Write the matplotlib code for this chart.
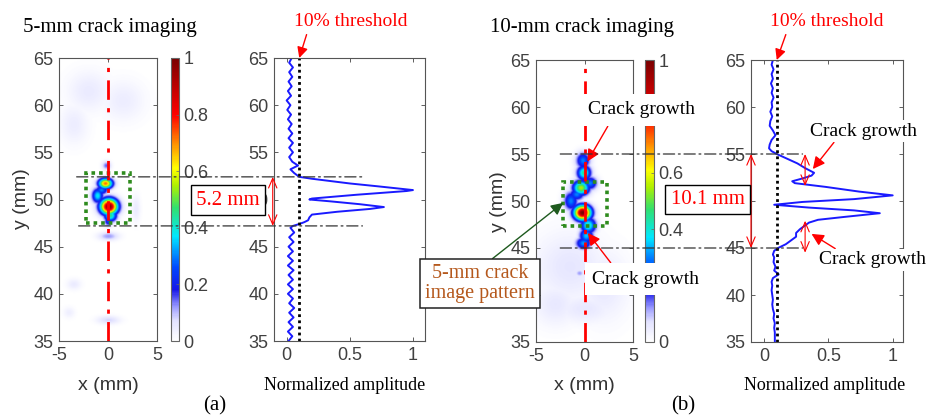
import numpy as np
import matplotlib
matplotlib.use('Agg')
import matplotlib.pyplot as plt
from matplotlib.colors import LinearSegmentedColormap
from matplotlib.patches import ConnectionPatch, Rectangle

SANS = 'Liberation Sans'
SERIF = 'Liberation Serif'

# ---- data ----
# image blobs: x, y centre (mm), peak amplitude, spread x / y (mm)
blob_a_x = [-0.3, -1.1, -0.7, 0.05, 0.2, 0.0, -0.2, 0.0, -2.0, 1.5, -3.5, 0.0, -3.5, 2.8, -4.0]
blob_a_y = [51.7, 50.4, 51.0, 49.25, 48.3, 47.7, 53.6, 46.1, 61.5, 60.5, 58.0, 37.2, 41.0, 49.0, 38.0]
blob_a_amp = [0.72, 0.38, 0.3, 1.0, 0.45, 0.25, 0.15, 0.12, 0.05, 0.045, 0.045, 0.08, 0.05, 0.05, 0.04]
blob_a_sx = [0.5, 0.4, 0.45, 0.62, 0.45, 0.3, 0.3, 0.7, 1.5, 1.5, 1.0, 0.8, 0.5, 0.3, 0.4]
blob_a_sy = [0.38, 0.55, 0.35, 0.58, 0.45, 0.35, 0.3, 0.3, 1.5, 1.5, 1.5, 0.3, 0.4, 1.0, 0.4]

blob_b_x = [-0.15, -0.05, -0.35, 0.6, -1.4, -0.8, -0.2, 0.4, 0.2, -0.1, -0.5, -1.5, 2.0, -3.0, 0.0]
blob_b_y = [54.3, 53.0, 51.4, 51.9, 50.0, 50.7, 48.75, 47.4, 46.3, 45.5, 42.3, 43.0, 41.0, 39.0, 38.5]
blob_b_amp = [0.3, 0.45, 0.55, 0.3, 0.3, 0.3, 1.0, 0.42, 0.35, 0.32, 0.12, 0.06, 0.055, 0.055, 0.055]
blob_b_sx = [0.5, 0.5, 0.6, 0.5, 0.5, 0.55, 0.62, 0.55, 0.5, 0.55, 0.3, 2.6, 1.8, 1.6, 2.2]
blob_b_sy = [0.6, 0.55, 0.55, 0.5, 0.7, 0.45, 0.55, 0.6, 0.55, 0.45, 0.25, 2.6, 2.6, 1.6, 1.1]

# normalized amplitude profiles along y
prof_a_y = [65.0, 64.5, 64.0, 63.5, 63.0, 62.5, 62.0, 61.5, 61.0, 60.5, 60.0, 59.5,
            59.0, 58.5, 58.0, 57.5, 57.0, 56.5, 56.0, 55.5, 55.0, 54.5, 54.0, 53.6,
            53.2, 52.8, 52.4, 52.2, 52.0, 51.7, 51.4, 51.1, 51.0, 50.9, 50.5, 50.1,
            50.0, 49.8, 49.5, 49.2, 49.0, 48.7, 48.4, 48.1, 47.8, 47.6, 47.4, 47.2,
            47.0, 46.5, 46.0, 45.5, 45.0, 44.5, 44.0, 43.5, 43.0, 42.5, 42.0, 41.5,
            41.0, 40.5, 40.0, 39.5, 39.0, 38.5, 38.0, 37.5, 37.0, 36.5, 36.0, 35.5, 35.0]
prof_a_amp = [0.04, 0.02, 0.05, 0.02, 0.045, 0.015, 0.04, 0.01, 0.035, 0.0, 0.03, 0.005,
              0.035, 0.01, 0.04, 0.015, 0.045, 0.015, 0.05, 0.02, 0.05, 0.02, 0.045, 0.09,
              0.03, 0.06, 0.10, 0.20, 0.32, 0.50, 0.72, 0.93, 1.00, 0.95, 0.55, 0.20,
              0.18, 0.35, 0.58, 0.77, 0.66, 0.40, 0.20, 0.18, 0.17, 0.14, 0.10, 0.05,
              0.03, 0.06, 0.02, 0.055, 0.015, 0.05, 0.01, 0.05, 0.01, 0.055, 0.015, 0.05,
              0.01, 0.05, 0.01, 0.05, 0.02, 0.06, 0.02, 0.055, 0.015, 0.05, 0.01, 0.045, 0.015]

prof_b_y = [65.0, 64.5, 64.0, 63.5, 63.0, 62.5, 62.0, 61.5, 61.0, 60.5, 60.0, 59.5,
            59.0, 58.5, 58.0, 57.5, 57.0, 56.5, 56.0, 55.6, 55.3, 55.0, 54.5, 54.0,
            53.5, 53.0, 52.7, 52.4, 52.1, 51.9, 51.5, 51.0, 50.6, 50.2, 49.9, 49.6,
            49.3, 49.0, 48.7, 48.3, 48.0, 47.7, 47.3, 47.0, 46.6, 46.2, 45.8, 45.4,
            45.0, 44.7, 44.3, 44.0, 43.5, 43.0, 42.6, 42.2, 41.8, 41.4, 41.0, 40.5,
            40.0, 39.5, 39.0, 38.5, 38.0, 37.5, 37.0, 36.5, 36.0, 35.5, 35.0]
prof_b_amp = [0.07, 0.06, 0.075, 0.06, 0.07, 0.055, 0.07, 0.06, 0.075, 0.06, 0.065, 0.05,
              0.065, 0.05, 0.045, 0.07, 0.09, 0.06, 0.045, 0.04, 0.06, 0.10, 0.18, 0.26,
              0.32, 0.39, 0.37, 0.30, 0.22, 0.24, 0.48, 0.74, 1.00, 0.70, 0.30, 0.08,
              0.35, 0.70, 0.90, 0.62, 0.42, 0.35, 0.31, 0.28, 0.25, 0.25, 0.21, 0.17,
              0.11, 0.08, 0.07, 0.08, 0.075, 0.09, 0.08, 0.115, 0.07, 0.06, 0.065, 0.06,
              0.065, 0.07, 0.065, 0.07, 0.08, 0.075, 0.085, 0.08, 0.085, 0.085, 0.085]

threshold = 0.1
crack_a = (47.2, 52.4)
crack_b = (45.0, 55.0)
cbar_ticks = [0, 0.2, 0.4, 0.6, 0.8, 1]
cbar_labels = ['0', '0.2', '0.4', '0.6', '0.8', '1']

cmap = LinearSegmentedColormap.from_list('whitejet', [
    (0.0, '#ffffff'), (0.07, '#e2e2ff'), (0.12, '#9a9aff'), (0.18, '#1515e8'),
    (0.26, '#0048ff'), (0.37, '#00e8ff'), (0.47, '#30e070'), (0.55, '#b0f000'),
    (0.61, '#ffff00'), (0.70, '#ff8c00'), (0.80, '#ff0000'), (1.0, '#7a0000')])


def make_image(bx, by, amp, sx, sy):
    gx = np.linspace(-5, 5, 201)
    gy = np.linspace(35, 65, 601)
    X, Y = np.meshgrid(gx, gy)
    Z = np.zeros_like(X)
    for x0, y0, a, s1, s2 in zip(bx, by, amp, sx, sy):
        Z = np.maximum(Z, a * np.exp(-((X - x0) ** 2 / (2 * s1 ** 2) + (Y - y0) ** 2 / (2 * s2 ** 2))))
    return Z


def style_axes(ax):
    ax.tick_params(direction='in', top=True, right=True, length=3, width=0.6,
                   color='#444444', labelcolor='#404040', labelsize=13, pad=4)
    for lab in ax.get_xticklabels() + ax.get_yticklabels():
        lab.set_family(SANS)
    for sp in ax.spines.values():
        sp.set_color('#555555')
        sp.set_linewidth(0.8)


fig = plt.figure(figsize=(9.3, 4.18), dpi=100)


def px_axes(l, t, r, b):
    return fig.add_axes([l / 930, 1 - b / 418, (r - l) / 930, (b - t) / 418])


ax_a = px_axes(59, 58, 157, 341)
cax_a = px_axes(171, 58, 179, 341)
pr_a = px_axes(274, 58, 425, 341)
ax_b = px_axes(536, 60, 633, 342)
cax_b = px_axes(645, 60, 654, 342)
pr_b = px_axes(751, 60, 903, 342)
# colorbars go underneath so the white label boxes can hide parts of them
cax_a.set_zorder(-1)
cax_b.set_zorder(-1)

panels = [
    (ax_a, cax_a, pr_a, make_image(blob_a_x, blob_a_y, blob_a_amp, blob_a_sx, blob_a_sy),
     prof_a_y, prof_a_amp, 1.095),
    (ax_b, cax_b, pr_b, make_image(blob_b_x, blob_b_y, blob_b_amp, blob_b_sx, blob_b_sy),
     prof_b_y, prof_b_amp, 1.08),
]

for ax, cax, pr, img, py, pa, xmax in panels:
    im = ax.imshow(img, origin='lower', extent=[-5, 5, 35, 65], aspect='auto',
                   cmap=cmap, vmin=0, vmax=1, interpolation='bilinear')
    ax.plot([0, 0], [35, 65], color='red', lw=2, linestyle=(0, (7, 3, 1.5, 3)))
    ax.set_xlim(-5, 5)
    ax.set_ylim(35, 65)
    ax.set_xticks([-5, 0, 5])
    ax.set_xticklabels(['-5', '0', '5'])
    ax.set_yticks([35, 40, 45, 50, 55, 60, 65])
    style_axes(ax)

    cb = fig.colorbar(im, cax=cax, ticks=cbar_ticks)
    cb.ax.set_yticklabels(cbar_labels)
    cb.outline.set_edgecolor('#666666')
    cb.outline.set_linewidth(0.8)
    cax.tick_params(direction='in', length=2, width=0.5, color='#666666',
                    labelcolor='#404040', labelsize=13, pad=3)
    for lab in cax.get_yticklabels():
        lab.set_family(SANS)

    pr.plot(pa, py, color='#1a1aff', lw=1.4)
    pr.plot([threshold, threshold], [35, 65], color='black', lw=2, linestyle=(0, (1, 1.2)))
    pr.set_xlim(-0.1, xmax)
    pr.set_ylim(35, 65)
    pr.set_xticks([0, 0.5, 1])
    pr.set_xticklabels(['0', '0.5', '1'])
    pr.set_yticks([35, 40, 45, 50, 55, 60, 65])
    style_axes(pr)

# green dotted box marking the 5-mm crack pattern
ax_a.add_patch(Rectangle((-2.2, 47.5), 4.4, 5.3, fill=False, ec='#2e8b1e', lw=2.6,
                         linestyle=(0, (1, 1.1))))
ax_b.add_patch(Rectangle((-2.2, 47.3), 4.5, 4.7, fill=False, ec='#2e8b1e', lw=2.6,
                         linestyle=(0, (1, 1.1))))

# dash-dot guide lines between image and profile
dd = (0, (9, 3, 1.5, 3))
for yv, x0 in [(crack_a[1], -3.2), (crack_a[0], -3.0)]:
    fig.add_artist(ConnectionPatch(xyA=(x0, yv), coordsA=ax_a.transData, xyB=(0.6, yv),
                                   coordsB=pr_a.transData, color='#333333', lw=0.9,
                                   linestyle=dd, shrinkA=0, shrinkB=0, zorder=5))
for yv in crack_b:
    fig.add_artist(ConnectionPatch(xyA=(-2.5, yv), coordsA=ax_b.transData, xyB=(0.3, yv),
                                   coordsB=pr_b.transData, color='#333333', lw=0.9,
                                   linestyle=dd, shrinkA=0, shrinkB=0, zorder=5))

# double arrows for crack length
dbl = dict(arrowstyle='<->,head_length=0.7,head_width=0.3', color='red', lw=0.8,
           shrinkA=0, shrinkB=0)
pr_a.annotate('', xy=(-0.11, crack_a[0]), xytext=(-0.11, crack_a[1]),
              arrowprops=dbl, annotation_clip=False)
pr_b.annotate('', xy=(-0.1, crack_b[0]), xytext=(-0.1, crack_b[1]),
              arrowprops=dbl, annotation_clip=False)
pr_b.annotate('', xy=(0.32, 51.6), xytext=(0.32, 55.0), arrowprops=dbl, annotation_clip=False)
pr_b.annotate('', xy=(0.32, 44.5), xytext=(0.32, 47.9), arrowprops=dbl, annotation_clip=False)

box = dict(boxstyle='square,pad=0.25', fc='white', ec='black', lw=1)
fig.text(0.245, 0.5215, '5.2 mm', color='red', fontsize=15, family=SERIF,
         ha='center', va='center', bbox=box, zorder=6)
fig.text(0.7608, 0.5227, '10.1 mm', color='red', fontsize=15, family=SERIF,
         ha='center', va='center', bbox=box, zorder=6)

# titles and labels
fig.text(0.118, 0.935, '5-mm crack imaging', fontsize=15, family=SERIF, ha='center', va='center')
fig.text(0.626, 0.935, '10-mm crack imaging', fontsize=15, family=SERIF, ha='center', va='center')
for xc, lab in [(108, 'x (mm)'), (584.5, 'x (mm)')]:
    fig.text(xc / 930, 1 - 385 / 418, lab, fontsize=14, family=SANS, color='#333333',
             ha='center', va='center')
for xc, yc in [(22, 199), (498, 202)]:
    fig.text(xc / 930, 1 - yc / 418, 'y (mm)', fontsize=14, family=SANS, color='#333333',
             ha='center', va='center', rotation=90)
for xc in [345, 825]:
    fig.text(xc / 930, 1 - 385 / 418, 'Normalized amplitude', fontsize=13, family=SERIF,
             ha='center', va='center')
fig.text(215 / 930, 1 - 406 / 418, '(a)', fontsize=15, family=SERIF, ha='center', va='center')
fig.text(683 / 930, 1 - 406 / 418, '(b)', fontsize=15, family=SERIF, ha='center', va='center')

# threshold annotations
thr_arrow = dict(arrowstyle='-|>', color='red', lw=1, mutation_scale=16, shrinkA=1, shrinkB=0)
pr_a.annotate('10% threshold', xy=(threshold, 65), xycoords='data',
              xytext=(351 / 930, 1 - 22 / 418), textcoords='figure fraction',
              color='red', fontsize=14, family=SERIF, ha='center', va='center',
              arrowprops=dict(thr_arrow, relpos=(0.12, 0.0)), annotation_clip=False)
pr_b.annotate('10% threshold', xy=(threshold, 65), xycoords='data',
              xytext=(827 / 930, 1 - 22 / 418), textcoords='figure fraction',
              color='red', fontsize=14, family=SERIF, ha='center', va='center',
              arrowprops=dict(thr_arrow, relpos=(0.15, 0.0)), annotation_clip=False)

# crack growth annotations (white boxes hide the parts of the axes behind them)
wbox = dict(boxstyle='square,pad=0.15', fc='white', ec='none')
wbox_big = dict(boxstyle='square,pad=0.4', fc='white', ec='none')
cg_arrow = dict(arrowstyle='-|>', color='red', lw=1, mutation_scale=18, shrinkA=0, shrinkB=0)
ax_b.annotate('Crack growth', xy=(0.3, 54.2), xycoords='data',
              xytext=(641 / 930, 1 - 110 / 418), textcoords='figure fraction',
              fontsize=14, family=SERIF, ha='center', va='center', bbox=wbox_big,
              arrowprops=dict(cg_arrow, relpos=(0.25, 0.2)), annotation_clip=False)
ax_b.annotate('Crack growth', xy=(0.35, 46.6), xycoords='data',
              xytext=(646 / 930, 1 - 279 / 418), textcoords='figure fraction',
              fontsize=14, family=SERIF, ha='center', va='center', bbox=wbox_big,
              arrowprops=dict(cg_arrow, relpos=(0.25, 0.8)), annotation_clip=False)
pr_b.annotate('Crack growth', xy=(0.38, 53.4), xycoords='data',
              xytext=(863 / 930, 1 - 131 / 418), textcoords='figure fraction',
              fontsize=14, family=SERIF, ha='center', va='center', bbox=wbox,
              arrowprops=dict(cg_arrow, relpos=(0.25, 0.0)), annotation_clip=False)
pr_b.annotate('Crack growth', xy=(0.37, 46.5), xycoords='data',
              xytext=(872 / 930, 1 - 260 / 418), textcoords='figure fraction',
              fontsize=14, family=SERIF, ha='center', va='center', bbox=wbox,
              arrowprops=dict(cg_arrow, relpos=(0.2, 1.0)), annotation_clip=False)

# 5-mm pattern label with green arrow
ax_b.annotate('5-mm crack\nimage pattern', xy=(-2.2, 49.8), xycoords='data',
              xytext=(480 / 930, 1 - 283.5 / 418), textcoords='figure fraction',
              color='#b5581c', fontsize=14.5, family=SERIF, ha='center', va='center',
              linespacing=1.05,
              bbox=dict(boxstyle='square,pad=0.25', fc='white', ec='#222222', lw=1.1),
              arrowprops=dict(arrowstyle='-|>', color='#1e5a1e', lw=1, mutation_scale=18,
                              shrinkA=0, shrinkB=0, relpos=(0.55, 1.0)),
              annotation_clip=False)

plt.savefig('out.png', dpi=100)
plt.close()
